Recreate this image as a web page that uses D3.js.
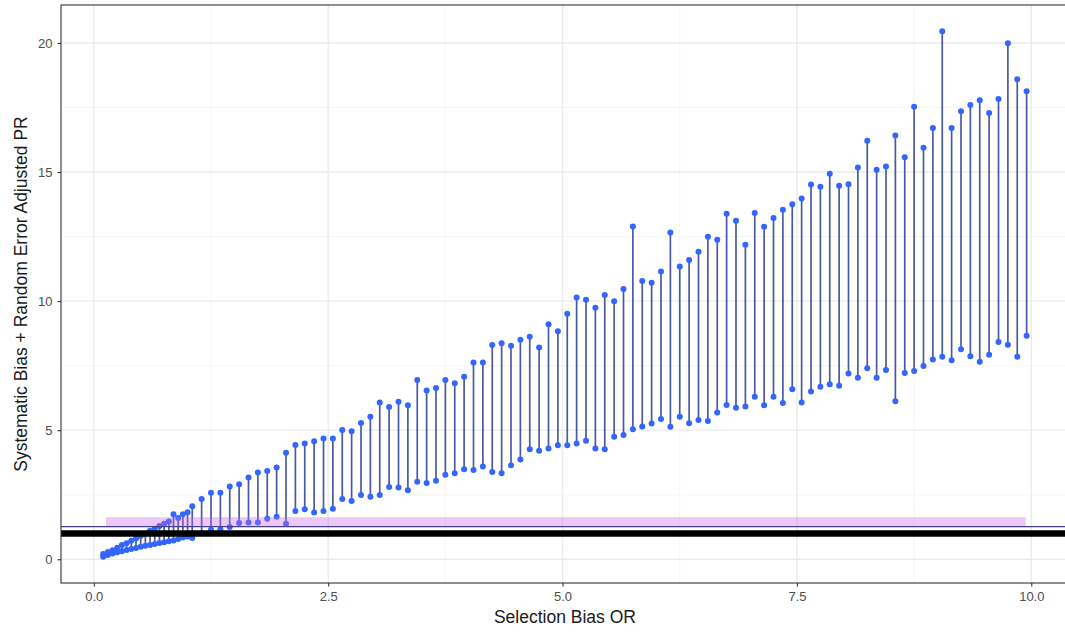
<!DOCTYPE html>
<html>
<head>
<meta charset="utf-8">
<script src="https://cdn.jsdelivr.net/npm/d3@7"></script>
<style>
  body { margin: 0; background: #ffffff; }
  text { font-family: "Liberation Sans", Arial, Helvetica, sans-serif; }
</style>
</head>
<body>
<div id="chart"></div>
<script>
// selection bias OR values
var orValues = [0.1, 0.15, 0.2, 0.25, 0.3, 0.35, 0.4, 0.45, 0.5, 0.55, 0.6, 0.65, 0.7, 0.75, 0.8, 0.85, 0.9, 0.95, 1.0,
  1.05, 1.15, 1.25, 1.35, 1.45, 1.55, 1.65, 1.75, 1.85, 1.95,
  2.05, 2.15, 2.25, 2.35, 2.45, 2.55, 2.65, 2.75, 2.85, 2.95,
  3.05, 3.15, 3.25, 3.35, 3.45, 3.55, 3.65, 3.75, 3.85, 3.95,
  4.05, 4.15, 4.25, 4.35, 4.45, 4.55, 4.65, 4.75, 4.85, 4.95,
  5.05, 5.15, 5.25, 5.35, 5.45, 5.55, 5.65, 5.75, 5.85, 5.95,
  6.05, 6.15, 6.25, 6.35, 6.45, 6.55, 6.65, 6.75, 6.85, 6.95,
  7.05, 7.15, 7.25, 7.35, 7.45, 7.55, 7.65, 7.75, 7.85, 7.95,
  8.05, 8.15, 8.25, 8.35, 8.45, 8.55, 8.65, 8.75, 8.85, 8.95,
  9.05, 9.15, 9.25, 9.35, 9.45, 9.55, 9.65, 9.75, 9.85, 9.95];

// lower end of each interval
var lowerPR = [0.10, 0.16, 0.22, 0.27, 0.31, 0.36, 0.40, 0.44, 0.48, 0.52, 0.55, 0.59, 0.63, 0.66, 0.70, 0.73, 0.78, 0.84, 0.88,
  0.82, 1.02, 1.14, 1.16, 1.25, 1.40, 1.42, 1.42, 1.57, 1.65,
  1.38, 1.87, 1.94, 1.81, 1.87, 1.96, 2.33, 2.26, 2.49, 2.42,
  2.49, 2.80, 2.78, 2.67, 3.00, 2.95, 3.04, 3.27, 3.33, 3.49,
  3.46, 3.59, 3.38, 3.33, 3.64, 3.86, 4.26, 4.20, 4.29, 4.42,
  4.42, 4.48, 4.59, 4.29, 4.26, 4.75, 4.81, 5.04, 5.14, 5.26,
  5.43, 5.13, 5.52, 5.27, 5.39, 5.36, 5.68, 5.98, 5.87, 5.92,
  6.29, 5.97, 6.29, 6.05, 6.59, 6.07, 6.50, 6.68, 6.78, 6.72,
  7.20, 7.03, 7.40, 7.03, 7.33, 6.12, 7.21, 7.29, 7.49, 7.74,
  7.84, 7.71, 8.13, 7.86, 7.65, 7.92, 8.42, 8.31, 7.84, 8.66];

// upper end of each interval
var upperPR = [0.20, 0.28, 0.35, 0.45, 0.55, 0.62, 0.72, 0.80, 0.90, 1.00, 1.10, 1.18, 1.29, 1.38, 1.46, 1.74, 1.60, 1.74, 1.82,
  2.05, 2.33, 2.58, 2.58, 2.82, 2.91, 3.17, 3.36, 3.42, 3.55,
  4.13, 4.43, 4.48, 4.57, 4.68, 4.68, 5.01, 4.96, 5.28, 5.52,
  6.07, 5.90, 6.10, 5.97, 6.94, 6.54, 6.63, 6.94, 6.82, 7.07,
  7.62, 7.62, 8.30, 8.37, 8.27, 8.50, 8.62, 8.20, 9.10, 8.83,
  9.51, 10.14, 10.05, 9.74, 10.24, 9.99, 10.47, 12.89, 10.78, 10.71,
  11.15, 12.66, 11.34, 11.59, 11.91, 12.49, 12.38, 13.38, 13.11, 12.18,
  13.41, 12.88, 13.22, 13.54, 13.75, 13.97, 14.52, 14.43, 14.93, 14.47,
  14.53, 15.18, 16.21, 15.09, 15.21, 16.41, 15.57, 17.53, 15.94, 16.71,
  20.45, 16.71, 17.35, 17.60, 17.78, 17.29, 17.83, 19.99, 18.59, 18.13];

// reference lines and shaded band
var nullLine = 1.0;
var observedLine = 1.26;
var bandLow = 1.26;
var bandHigh = 1.63;

var xTicks = [0, 2.5, 5, 7.5, 10];
var xMinor = [1.25, 3.75, 6.25, 8.75];
var yTicks = [0, 5, 10, 15, 20];
var yMinor = [2.5, 7.5, 12.5, 17.5];

var width = 1065;
var height = 633;

var svg = d3.select("#chart")
  .append("svg")
  .attr("width", width)
  .attr("height", height);

var panelL = 61, panelT = 5, panelB = 583;
var panelR = panelL + 10.75 * 93.75; // panel goes past the picture edge

var x = d3.scaleLinear().domain([-0.35, 10.4]).range([panelL, panelR]);
var y = d3.scaleLinear().domain([-0.92, 21.47]).range([panelB, panelT]);

var data = orValues.map(function (d, i) {
  return { or: d, lo: lowerPR[i], hi: upperPR[i] };
});

// grid
var grid = svg.append("g");
grid.selectAll(".xminor").data(xMinor).enter().append("line")
  .attr("x1", d => x(d)).attr("x2", d => x(d))
  .attr("y1", panelT).attr("y2", panelB)
  .attr("stroke", "#f2f2f2").attr("stroke-width", 0.8);
grid.selectAll(".yminor").data(yMinor).enter().append("line")
  .attr("x1", panelL).attr("x2", panelR)
  .attr("y1", d => y(d)).attr("y2", d => y(d))
  .attr("stroke", "#f2f2f2").attr("stroke-width", 0.8);
grid.selectAll(".xmajor").data(xTicks).enter().append("line")
  .attr("x1", d => x(d)).attr("x2", d => x(d))
  .attr("y1", panelT).attr("y2", panelB)
  .attr("stroke", "#ebebeb").attr("stroke-width", 1.4);
grid.selectAll(".ymajor").data(yTicks).enter().append("line")
  .attr("x1", panelL).attr("x2", panelR)
  .attr("y1", d => y(d)).attr("y2", d => y(d))
  .attr("stroke", "#ebebeb").attr("stroke-width", 1.4);

// intervals
svg.append("g").selectAll("line").data(data).enter().append("line")
  .attr("x1", d => x(d.or)).attr("x2", d => x(d.or))
  .attr("y1", d => y(d.lo)).attr("y2", d => y(d.hi))
  .attr("stroke", "#1f2f8a")
  .attr("stroke-opacity", 0.8)
  .attr("stroke-width", 1.7);

var pts = svg.append("g");
pts.selectAll(".lo").data(data).enter().append("circle")
  .attr("cx", d => x(d.or)).attr("cy", d => y(d.lo)).attr("r", 3)
  .attr("fill", "#3366ff");
pts.selectAll(".hi").data(data).enter().append("circle")
  .attr("cx", d => x(d.or)).attr("cy", d => y(d.hi)).attr("r", 3)
  .attr("fill", "#3366ff");

// shaded band across the observed range
svg.append("rect")
  .attr("x", x(d3.min(orValues) + 0.03))
  .attr("width", x(d3.max(orValues) - 0.01) - x(d3.min(orValues) + 0.03))
  .attr("y", y(bandHigh))
  .attr("height", y(bandLow) - y(bandHigh))
  .attr("fill", "#c860e8")
  .attr("fill-opacity", 0.35);

svg.append("line")
  .attr("x1", panelL).attr("x2", panelR)
  .attr("y1", y(observedLine)).attr("y2", y(observedLine))
  .attr("stroke", "#483d8b").attr("stroke-width", 1.3);

svg.append("line")
  .attr("x1", panelL).attr("x2", panelR)
  .attr("y1", y(nullLine)).attr("y2", y(nullLine))
  .attr("stroke", "#000000").attr("stroke-width", 6.5);

// panel border
svg.append("rect")
  .attr("x", panelL).attr("y", panelT)
  .attr("width", panelR - panelL).attr("height", panelB - panelT)
  .attr("fill", "none").attr("stroke", "#333333").attr("stroke-width", 1.1);

// axes
var xAxis = svg.append("g")
  .attr("transform", "translate(0," + panelB + ")")
  .call(d3.axisBottom(x).tickValues(xTicks).tickFormat(d3.format(".1f")).tickSize(3.5).tickPadding(5));
var yAxis = svg.append("g")
  .attr("transform", "translate(" + panelL + ",0)")
  .call(d3.axisLeft(y).tickValues(yTicks).tickFormat(d3.format("d")).tickSize(3.5).tickPadding(5));

[xAxis, yAxis].forEach(function (g) {
  g.select(".domain").remove();
  g.selectAll(".tick line").attr("stroke", "#333333").attr("stroke-width", 1.1);
  g.selectAll(".tick text")
    .attr("fill", "#4d4d4d")
    .style("font-size", "13px")
    .style("font-family", "'Liberation Sans', Arial, sans-serif");
});

svg.append("text")
  .attr("x", (panelL + panelR) / 2)
  .attr("y", 623)
  .attr("text-anchor", "middle")
  .style("font-size", "17.5px")
  .attr("fill", "#1a1a1a")
  .text("Selection Bias OR");

svg.append("text")
  .attr("transform", "translate(27," + ((panelT + panelB) / 2) + ") rotate(-90)")
  .attr("text-anchor", "middle")
  .style("font-size", "17.5px")
  .attr("fill", "#1a1a1a")
  .text("Systematic Bias + Random Error Adjusted PR");
</script>
</body>
</html>
